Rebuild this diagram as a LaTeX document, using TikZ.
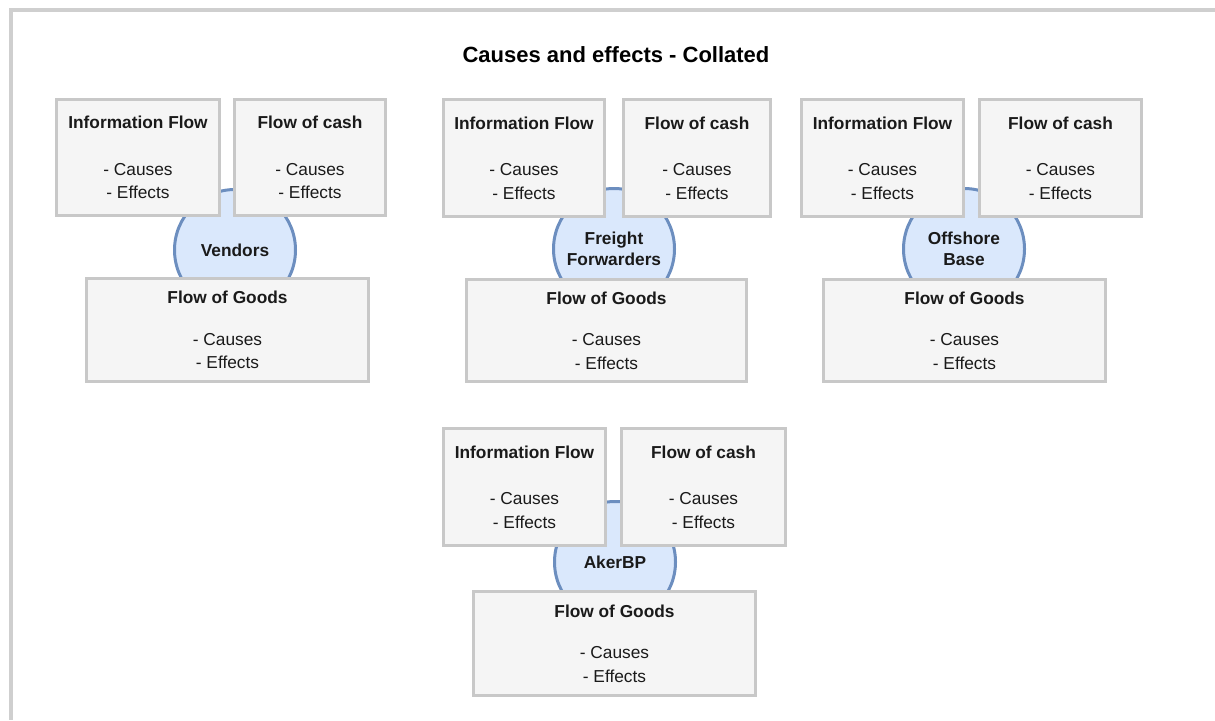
\documentclass[tikz,border=0pt]{standalone}
\usepackage{fontspec}
\setmainfont{Liberation Sans}
\definecolor{boxfill}{HTML}{F5F5F5}
\definecolor{boxline}{HTML}{C8C8C8}
\definecolor{hubfill}{HTML}{DAE8FC}
\definecolor{hubline}{HTML}{6C8EBF}
\definecolor{frameline}{HTML}{CFCFCF}
\definecolor{ink}{HTML}{1A1A1A}
\tikzset{
  flowbox/.style={draw=boxline, fill=boxfill, line width=3pt, rectangle,
    align=center, text=ink, inner sep=0pt,
    font=\fontsize{17.3}{23.5}\selectfont},
  hub/.style={draw=hubline, fill=hubfill, line width=3pt, circle,
    minimum size=121pt, inner sep=0pt, align=center, text=ink,
    font=\bfseries\fontsize{17.3}{21}\selectfont},
  framerule/.style={draw=frameline, line width=3.5pt}
}
\newcommand{\smallflow}[1]{\textbf{#1}\\[23pt]- Causes\\- Effects}
\newcommand{\goodsflow}{\textbf{Flow of Goods}\\[18pt]- Causes\\- Effects}
\begin{document}
\begin{tikzpicture}[x=1pt,y=-1pt]
\useasboundingbox (0,0) rectangle (1215,720);
% page frame (top and left rules)
\coordinate (frameTL) at (11,10);
\coordinate (frameTR) at (1215,10);
\coordinate (frameBL) at (11,720);
\draw[framerule] (frameTR) -- (frameTL) -- (frameBL);

\node[text=black, font=\bfseries\fontsize{22}{26}\selectfont] (title) at (616,55) {Causes and effects - Collated};

% hubs (drawn first, partly covered by the boxes)
\node[hub] (vendors) at (235,250) {Vendors};
\node[hub] (freight) at (614,249) {Freight\\Forwarders};
\node[hub] (offshore) at (964,249) {Offshore\\Base};
\node[hub] (akerbp) at (615,562) {AkerBP};

% Vendors
\node[flowbox, minimum width=163pt, minimum height=116pt] (vinfo) at (138,157.5) {\smallflow{Information Flow}};
\node[flowbox, minimum width=151pt, minimum height=116pt] (vcash) at (310,157.5) {\smallflow{Flow of cash}};
\node[flowbox, minimum width=282pt, minimum height=103pt] (vgoods) at (227.5,330) {\goodsflow};

% Freight Forwarders
\node[flowbox, minimum width=161pt, minimum height=117pt] (finfo) at (524,158) {\smallflow{Information Flow}};
\node[flowbox, minimum width=147pt, minimum height=117pt] (fcash) at (697,158) {\smallflow{Flow of cash}};
\node[flowbox, minimum width=280pt, minimum height=102pt] (fgoods) at (606.5,330.5) {\goodsflow};

% Offshore Base
\node[flowbox, minimum width=162pt, minimum height=117pt] (oinfo) at (882.5,158) {\smallflow{Information Flow}};
\node[flowbox, minimum width=162pt, minimum height=117pt] (ocash) at (1060.5,158) {\smallflow{Flow of cash}};
\node[flowbox, minimum width=282pt, minimum height=102pt] (ogoods) at (964.5,330.5) {\goodsflow};

% AkerBP
\node[flowbox, minimum width=162pt, minimum height=117pt] (ainfo) at (524.5,487) {\smallflow{Information Flow}};
\node[flowbox, minimum width=164pt, minimum height=117pt] (acash) at (703.5,487) {\smallflow{Flow of cash}};
\node[flowbox, minimum width=282pt, minimum height=104pt] (agoods) at (614.5,643.5) {\goodsflow};
\end{tikzpicture}
\end{document}
